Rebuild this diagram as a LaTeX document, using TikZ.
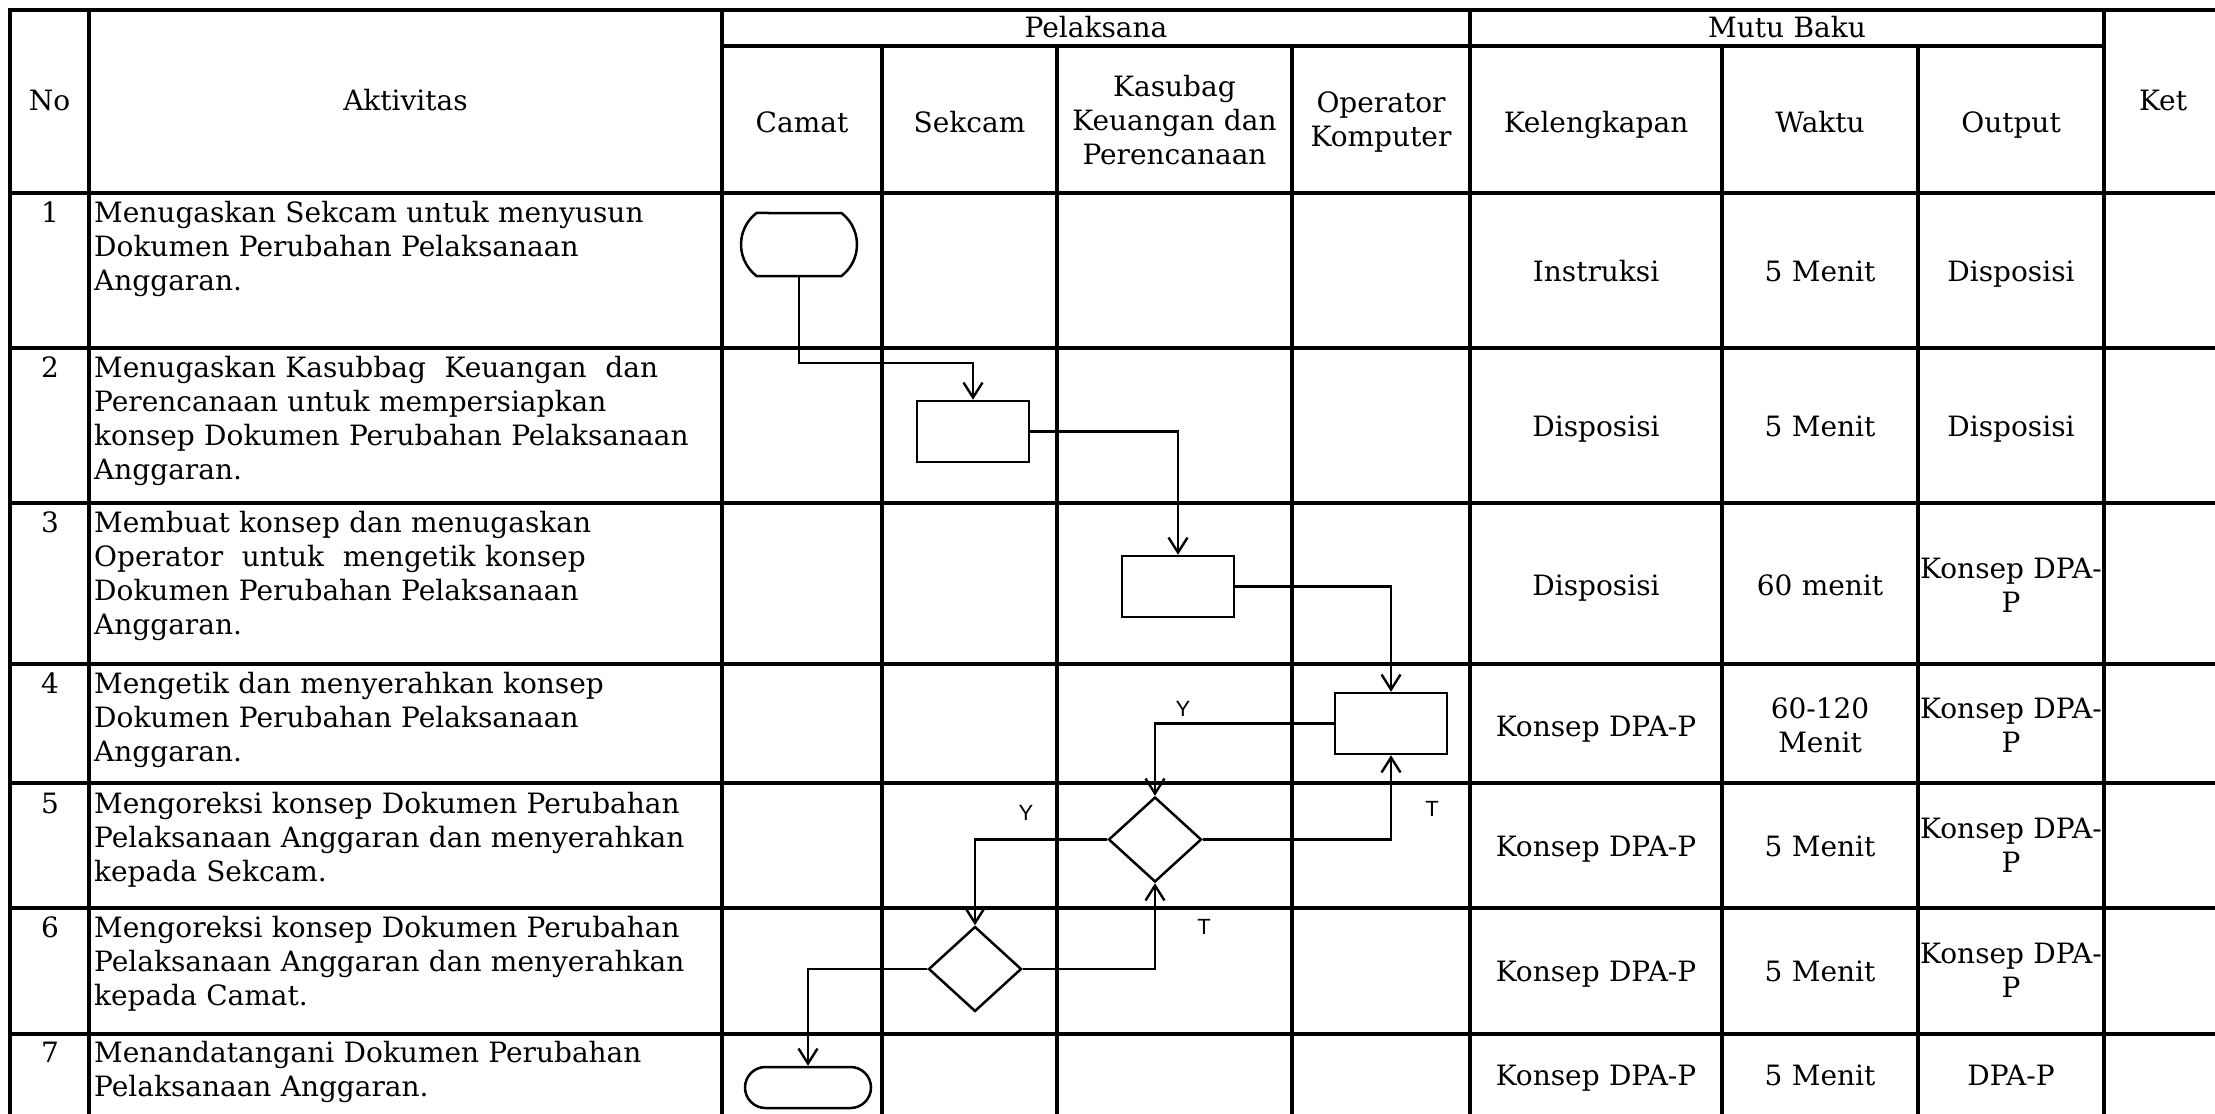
\documentclass[tikz,border=0pt]{standalone}
\usepackage{fontspec}
\setmainfont{DejaVu Serif}
\newfontfamily\lblfont{Liberation Sans}
\usetikzlibrary{shapes.geometric,shapes.misc,arrows.meta}
\begin{document}
\begin{tikzpicture}[x=1pt,y=-1pt,
  tbl/.style={line width=3.2pt, line cap=rect},
  con/.style={line width=2.4pt},
  arr/.style={con, -{Straight Barb[length=15pt,width=19pt,line width=2.4pt]}},
  txt/.style={font=\fontsize{28}{34}\selectfont, inner sep=0pt},
  act/.style={txt, anchor=base west, text width=625pt, align=left},
  num/.style={txt, anchor=base},
  cell/.style={txt, anchor=base, text width=200pt, align=center},
  kcell/.style={cell, text width=245pt},
  hdr/.style={font=\fontsize{28}{34}\selectfont, inner sep=0pt, anchor=base, text width=230pt, align=center},
  lbl/.style={font=\lblfont\fontsize{22}{24}\selectfont, inner sep=0pt, anchor=base},
  proc/.style={draw, line width=2.5pt, rectangle, minimum width=112pt, minimum height=61pt, inner sep=0pt},
  dec/.style={draw, line width=2.5pt, diamond, minimum width=93pt, minimum height=85pt, inner sep=0pt},
  term/.style={draw, line width=2.5pt, rounded rectangle, inner sep=0pt}]
\useasboundingbox (0,0) rectangle (2215,1113);
% table grid
\draw[tbl] (10,10) -- (2215,10);
\draw[tbl] (722,46) -- (2104,46);
\foreach \y in {193,348,503,664,783,908,1034} \draw[tbl] (10,\y) -- (2215,\y);
\foreach \x in {10,89,722,1470,2104} \draw[tbl] (\x,10) -- (\x,1113);
\foreach \x in {882,1057,1292,1722,1918} \draw[tbl] (\x,46) -- (\x,1113);
% header
\node[hdr] (hno) at (49.5,111) {No};
\node[hdr] (hakt) at (405.5,111) {Aktivitas};
\node[hdr] (hpel) at (1096,38) {Pelaksana};
\node[hdr] (hmutu) at (1787,38) {Mutu Baku};
\node[hdr] (hket) at (2163,111) {Ket};
\node[hdr] (hcamat) at (802,132) {Camat};
\node[hdr] (hsekcam) at (969.5,132) {Sekcam};
\node[hdr] (hkasubag) at (1174.5,97) {Kasubag\\Keuangan dan\\Perencanaan};
\node[hdr] (hop) at (1381,113) {Operator\\Komputer};
\node[hdr] (hkel) at (1596,132) {Kelengkapan};
\node[hdr] (hwaktu) at (1820,132) {Waktu};
\node[hdr] (hout) at (2011,132) {Output};
% numbers and activities
\node[num] (n1) at (50,222) {1};
\node[act] (a1) at (94,222) {Menugaskan Sekcam untuk menyusun\\Dokumen Perubahan Pelaksanaan\\Anggaran.};
\node[num] (n2) at (50,377) {2};
\node[act] (a2) at (94,377) {Menugaskan Kasubbag\ \ Keuangan\ \ dan\\Perencanaan untuk mempersiapkan\\konsep Dokumen Perubahan Pelaksanaan\\Anggaran.};
\node[num] (n3) at (50,532) {3};
\node[act] (a3) at (94,532) {Membuat konsep dan menugaskan\\Operator\ \ untuk\ \ mengetik konsep\\Dokumen Perubahan Pelaksanaan\\Anggaran.};
\node[num] (n4) at (50,693) {4};
\node[act] (a4) at (94,693) {Mengetik dan menyerahkan konsep\\Dokumen Perubahan Pelaksanaan\\Anggaran.};
\node[num] (n5) at (50,813) {5};
\node[act] (a5) at (94,813) {Mengoreksi konsep Dokumen Perubahan\\Pelaksanaan Anggaran dan menyerahkan\\kepada Sekcam.};
\node[num] (n6) at (50,937) {6};
\node[act] (a6) at (94,937) {Mengoreksi konsep Dokumen Perubahan\\Pelaksanaan Anggaran dan menyerahkan\\kepada Camat.};
\node[num] (n7) at (50,1062) {7};
\node[act] (a7) at (94,1062) {Menandatangani Dokumen Perubahan\\Pelaksanaan Anggaran.};
% mutu baku cells
\node[kcell] (k1) at (1596,281) {Instruksi};
\node[cell] (w1) at (1820,281) {5 Menit};
\node[cell] (o1) at (2011,281) {Disposisi};
\node[kcell] (k2) at (1596,436) {Disposisi};
\node[cell] (w2) at (1820,436) {5 Menit};
\node[cell] (o2) at (2011,436) {Disposisi};
\node[kcell] (k3) at (1596,595) {Disposisi};
\node[cell] (w3) at (1820,595) {60 menit};
\node[cell] (o3) at (2011,578) {Konsep DPA-\\P};
\node[kcell] (k4) at (1596,736) {Konsep DPA-P};
\node[cell] (w4) at (1820,718) {60-120\\Menit};
\node[cell] (o4) at (2011,718) {Konsep DPA-\\P};
\node[kcell] (k5) at (1596,856) {Konsep DPA-P};
\node[cell] (w5) at (1820,856) {5 Menit};
\node[cell] (o5) at (2011,838) {Konsep DPA-\\P};
\node[kcell] (k6) at (1596,981) {Konsep DPA-P};
\node[cell] (w6) at (1820,981) {5 Menit};
\node[cell] (o6) at (2011,963) {Konsep DPA-\\P};
\node[kcell] (k7) at (1596,1085) {Konsep DPA-P};
\node[cell] (w7) at (1820,1085) {5 Menit};
\node[cell] (o7) at (2011,1085) {DPA-P};
% flow shapes
\node[term, minimum width=116pt, minimum height=63pt, rounded rectangle arc length=105] (t1) at (799,244.5) {};
\node[proc] (p2) at (973,431.5) {};
\node[proc] (p3) at (1178,586.5) {};
\node[proc] (p4) at (1391,723.5) {};
\node[dec] (d5) at (1155,839.5) {};
\node[dec] (d6) at (975,969) {};
\node[term, minimum width=126pt, minimum height=41pt] (t7) at (808,1087.5) {};
% connectors
\coordinate (b1) at (973,363);
\draw[arr] (t1.south) |- (b1) -- (p2.north);
\draw[arr] (p2.east) -| (p3.north);
\draw[arr] (p3.east) -| (p4.north);
\draw[arr] (p4.west) -| (d5.north);
\draw[arr] (d5.east) -| (p4.south);
\draw[arr] (d5.west) -| (d6.north);
\draw[arr] (d6.east) -| (d5.south);
\draw[arr] (d6.west) -| (t7.north);
% labels
\node[lbl] (ly1) at (1183,716) {Y};
\node[lbl] (lt1) at (1432,816) {T};
\node[lbl] (ly2) at (1026,820) {Y};
\node[lbl] (lt2) at (1204,934) {T};
\end{tikzpicture}
\end{document}
